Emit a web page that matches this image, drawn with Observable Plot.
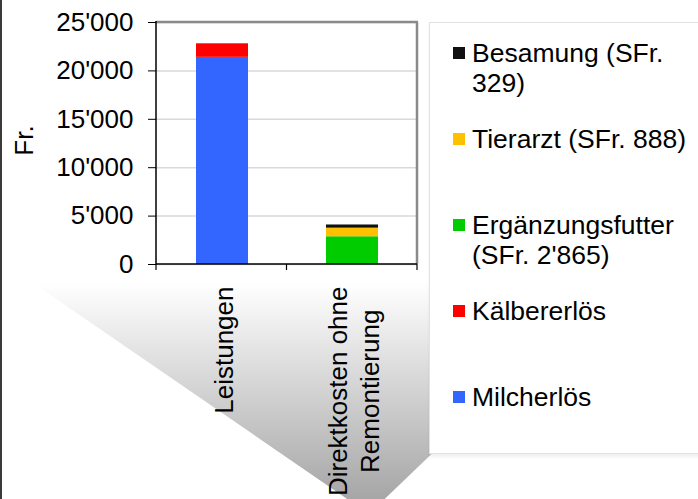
<!DOCTYPE html>
<html>
<head>
<meta charset="utf-8">
<script src="https://cdn.jsdelivr.net/npm/d3@7"></script>
<script src="https://cdn.jsdelivr.net/npm/@observablehq/plot@0.6"></script>
<style>
  html, body { margin: 0; padding: 0; background: #fff; }
  #wrap { position: relative; width: 698px; height: 499px; overflow: hidden; background: #fff;
          font-family: "Liberation Sans", Arial, sans-serif; }
  #bg, #chart { position: absolute; left: 0; top: 0; }
  #legend { position: absolute; left: 429px; top: 22px; width: 300px; height: 432px;
            background: #fff; border: 1px solid #e2e2e2; box-sizing: border-box;
            box-shadow: 0 3px 3px rgba(0,0,0,0.06); }
  .item { position: relative; height: 86px; box-sizing: border-box; padding-top: 15px; }
  .sw { position: absolute; left: 23px; width: 12px; height: 12px; top: 24px; }
  .lab { margin-left: 42px; width: 228px; font-size: 26.5px; line-height: 30px; color: #000; }
</style>
</head>
<body>
<div id="wrap">
  <svg id="bg" width="698" height="499">
    <defs>
      <linearGradient id="g" gradientUnits="userSpaceOnUse" x1="0" y1="283" x2="0" y2="514">
        <stop offset="0" stop-color="#ffffff"/>
        <stop offset="1" stop-color="#a0a0a0"/>
      </linearGradient>
    </defs>
    <polygon points="33,283 610,283 369,514" fill="url(#g)"/>
    <rect x="0" y="0" width="2" height="499" fill="#3a3a3a"/>
  </svg>
  <div id="chart"></div>
  <div id="legend"></div>
</div>
<script>
// ---- data ----
const categories = ["Leistungen", "Direktkosten ohne Remontierung"];
const seriesNames = ["Milcherlös", "Kälbererlös", "Ergänzungsfutter", "Tierarzt", "Besamung"];
const seriesCategory = ["Leistungen", "Leistungen", "Direktkosten ohne Remontierung", "Direktkosten ohne Remontierung", "Direktkosten ohne Remontierung"];
const seriesValues = [21400, 1400, 2865, 888, 329];
const yTicks = [0, 5000, 10000, 15000, 20000, 25000];
const legendOrder = ["Besamung", "Tierarzt", "Ergänzungsfutter", "Kälbererlös", "Milcherlös"];
const legendLabels = ["Besamung (SFr. 329)", "Tierarzt (SFr. 888)", "Ergänzungsfutter (SFr. 2'865)", "Kälbererlös", "Milcherlös"];
const yLabel = "Fr.";

// ---- styles ----
const palette = ["#3366ff", "#ff0000", "#00cc00", "#ffc000", "#111111"];
const FONT = "'Liberation Sans', Arial, sans-serif";
const FS = 26;

const rows = seriesNames.map((s, i) => ({series: s, category: seriesCategory[i], value: seriesValues[i]}));
const fmt = d3.formatLocale({decimal: ".", thousands: "'", grouping: [3], currency: ["", ""]}).format(",");

// wrap + measure category labels
const ctx = document.createElement("canvas").getContext("2d");
ctx.font = `${FS}px ${FONT}`;
function wrap(str, maxW) {
  const words = str.split(" "); const lines = []; let cur = "";
  for (const w of words) {
    const t = cur ? cur + " " + w : w;
    if (ctx.measureText(t).width > maxW && cur) { lines.push(cur); cur = w; } else cur = t;
  }
  lines.push(cur);
  return lines;
}
const catLabels = categories.map(c => {
  const lines = wrap(c, 235);
  return {cat: c, text: lines.join("\n"), w: d3.max(lines, l => ctx.measureText(l).width)};
});

function frameLines(index, scales, values, dims) {
  const {width, height, marginLeft, marginRight, marginTop, marginBottom} = dims;
  const x0 = marginLeft, x1 = width - marginRight, y0 = marginTop, y1 = height - marginBottom;
  const g = d3.create("svg:g");
  g.append("line").attr("x1", x0).attr("x2", x1 + 1).attr("y1", y0).attr("y2", y0)
    .attr("stroke", "#8a8a8a").attr("stroke-width", 2.5);
  g.append("line").attr("x1", x1).attr("x2", x1).attr("y1", y0).attr("y2", y1)
    .attr("stroke", "#8a8a8a").attr("stroke-width", 2.5);
  g.append("line").attr("x1", x0).attr("x2", x0).attr("y1", y0 - 1).attr("y2", y1)
    .attr("stroke", "#000").attr("stroke-width", 1.5);
  g.append("line").attr("x1", x0).attr("x2", x1).attr("y1", y1).attr("y2", y1)
    .attr("stroke", "#000").attr("stroke-width", 1.5);
  const n = categories.length;
  for (let i = 0; i <= n; i++) {
    const bx = x0 + i * (x1 - x0) / n;
    g.append("line").attr("x1", bx).attr("x2", bx).attr("y1", y1).attr("y2", y1 + 6)
      .attr("stroke", "#000").attr("stroke-width", 1.2);
  }
  return g.node();
}

const chart = Plot.plot({
  width: 430,
  height: 499,
  marginLeft: 156,
  marginRight: 13,
  marginTop: 22,
  marginBottom: 235,
  style: {background: "transparent", fontFamily: FONT, fontSize: FS + "px", color: "#000"},
  x: {domain: categories, paddingInner: 0.6, paddingOuter: 0.3, axis: null},
  y: {domain: [0, 25000]},
  color: {domain: seriesNames, range: palette},
  marks: [
    Plot.gridY({ticks: yTicks, stroke: "#d9d9d9", strokeOpacity: 1, strokeWidth: 1.5}),
    Plot.barY(rows, {x: "category", y: "value", fill: "series"}),
    frameLines,
    Plot.axisY({ticks: yTicks, tickFormat: fmt, tickSize: 8, tickPadding: 15, fontSize: FS, label: null, stroke: "#000"}),
    Plot.text([yLabel], {text: d => d, frameAnchor: "left", rotate: -90, dx: -132, dy: -3, textAnchor: "middle", lineAnchor: "middle", fontSize: FS, fill: "#000"}),
    ...catLabels.map(c => Plot.text([c], {
      x: d => d.cat, text: d => d.text, frameAnchor: "bottom", rotate: -90,
      textAnchor: "middle", lineAnchor: "middle", lineHeight: 1.24,
      dy: 22 + c.w / 2, fontSize: FS, fill: "#000"
    }))
  ]
});
document.getElementById("chart").append(chart);

// legend
const legend = d3.select("#legend");
legendOrder.forEach((s, i) => {
  const it = legend.append("div").attr("class", "item");
  it.append("div").attr("class", "sw").style("background", palette[seriesNames.indexOf(s)]);
  it.append("div").attr("class", "lab").text(legendLabels[i]);
});
</script>
</body>
</html>
